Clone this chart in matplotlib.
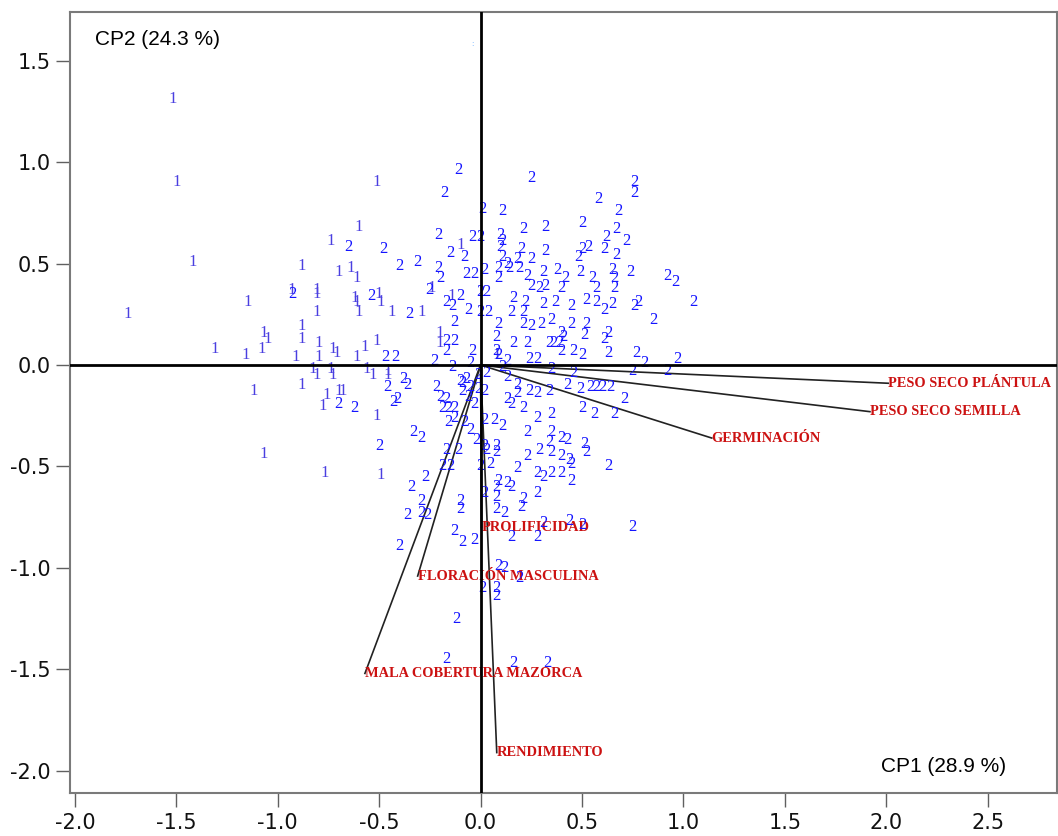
import matplotlib
matplotlib.use("Agg")
import matplotlib.pyplot as plt

# ---- axis titles / limits ----
CP1_LABEL = "CP1 (28.9 %)"
CP2_LABEL = "CP2 (24.3 %)"
X_TICKS = [-2.0, -1.5, -1.0, -0.5, 0.0, 0.5, 1.0, 1.5, 2.0, 2.5]
Y_TICKS = [-2.0, -1.5, -1.0, -0.5, 0.0, 0.5, 1.0, 1.5]

# ---- variable vectors (loadings) ----
var_names = ["PESO SECO PLÁNTULA", "PESO SECO SEMILLA", "GERMINACIÓN",
             "PROLIFICIDAD", "FLORACIÓN MASCULINA", "MALA COBERTURA MAZORCA",
             "RENDIMIENTO"]
var_x = [2.01, 1.92, 1.14, 0.005, -0.31, -0.57, 0.08]
var_y = [-0.09, -0.23, -0.36, -0.80, -1.04, -1.52, -1.91]

# ---- observations, group "1" ----
g1_x = [-1.52, -1.50, -1.42, -1.74, -1.15, -1.31, -1.16, -1.08, -1.07, -1.05,
        -1.12, -0.88, -0.93, -0.81, -0.81, -0.81, -0.88, -0.88, -0.91, -0.80,
        -0.80, -0.73, -0.71, -0.61, -0.57, -0.51, -0.83, -0.81, -0.74, -0.73,
        -0.56, -0.53, -0.46, -0.46, -0.88, -0.76, -0.70, -0.68, -0.78, -0.51,
        -0.74, -0.60, -0.70, -0.64, -0.61, -0.62, -0.61, -0.60, -0.50, -0.49,
        -0.44, -0.29, -0.51, -0.10, -0.24, -0.20, -0.20, -0.14, -1.07, -0.77,
        -0.49, 0.08]
g1_y = [1.31, 0.90, 0.51, 0.25, 0.31, 0.08, 0.05, 0.08, 0.16, 0.13,
        -0.13, 0.49, 0.37, 0.37, 0.35, 0.26, 0.19, 0.13, 0.04, 0.11,
        0.04, 0.08, 0.06, 0.04, 0.09, 0.12, -0.02, -0.05, -0.02, -0.05,
        -0.02, -0.05, -0.03, -0.05, -0.10, -0.15, -0.13, -0.13, -0.20, -0.25,
        0.61, 0.68, 0.46, 0.48, 0.43, 0.33, 0.31, 0.26, 0.35, 0.31,
        0.26, 0.26, 0.90, 0.59, 0.38, 0.16, 0.11, 0.34, -0.44, -0.53,
        -0.54, 0.05]

# ---- observations, group "2" ----
g2_x = [
    # upper left
    -0.11, -0.18, 0.01, 0.11, -0.65, -0.48, -0.21, -0.15, -0.08, -0.40,
    -0.31, -0.21, -0.20, -0.07, -0.25, -0.54, -0.35, -0.17, -0.10, -0.14,
    0.00, 0.00, -0.06, -0.13, -0.17, -0.13, -0.17, -0.47, -0.42, -0.23,
    -0.14, -0.05, -0.04, -0.04, -0.93,
    # lower left near origin
    -0.38, -0.36, -0.46, -0.43, -0.70, -0.62, -0.22, -0.20, -0.19, -0.10,
    -0.09, -0.06, -0.01, -0.01, -0.41, -0.17, -0.09, -0.07, -0.05, -0.03,
    -0.16, -0.13, -0.16, -0.13, -0.08, -0.05, -0.02, -0.33, -0.29, -0.17,
    -0.11, -0.19, -0.15, -0.27, -0.34, -0.29, -0.29, -0.26, -0.36, -0.10,
    -0.10, -0.13, -0.09, -0.03, -0.40, -0.12, -0.17, -0.50,
    # upper right
    0.25, 0.76, 0.76, 0.58, 0.68, 0.50, 0.32, 0.21, 0.67, 0.62,
    0.72, 0.00, 0.10, 0.11, 0.10, 0.20, 0.32, 0.53, 0.50, 0.48,
    0.61, 0.67, 0.11, 0.13, 0.18, 0.25, 0.02, -0.03, 0.09, 0.09,
    0.14, 0.19, 0.23, 0.31, 0.38, 0.42, 0.49, 0.55, 0.65, 0.66,
    0.74, 0.92, 0.96, 1.05, 0.25, 0.29, 0.32, 0.40, 0.57, 0.66,
    0.03, 0.16, 0.22, 0.31, 0.37, 0.45, 0.52, 0.57, 0.61, 0.65,
    0.76, 0.78, 0.85, 0.04, 0.15, 0.21, 0.35, 0.09, 0.21, 0.25,
    0.30, 0.45, 0.52, 0.40, 0.51, 0.61, 0.08, 0.16, 0.23, 0.34,
    0.39, 0.46, 0.50, 0.63, 0.77, 0.81, 0.97, 0.08, 0.09, 0.13,
    0.24, 0.28, 0.63, 0.41, 0.40, 0.36,
    # lower right
    0.35, 0.46, 0.75, 0.92, 0.57, 0.49, 0.64, 0.60, 0.43, 0.54,
    0.03, 0.13, 0.11, 0.02, 0.18, 0.18, 0.24, 0.28, 0.34, 0.13,
    0.15, 0.21, 0.28, 0.35, 0.50, 0.56, 0.66, 0.71, 0.02, 0.07,
    0.11, 0.23, 0.35, 0.40, 0.43, 0.34, 0.29, 0.35, 0.40, 0.44,
    0.51, 0.52, 0.23, 0.02, 0.03, 0.08, 0.08, 0.00, 0.05, 0.18,
    0.28, 0.31, 0.35, 0.40, 0.45, 0.45, 0.63, 0.09, 0.13, 0.15,
    0.08, 0.28, 0.02, 0.08, 0.21, 0.20, 0.08, 0.12, 0.31, 0.44,
    0.50, 0.15, 0.28, 0.75, 0.09, 0.12, 0.19, 0.01, 0.08, 0.08,
    0.16, 0.33,
]
g2_y = [
    # upper left
    0.96, 0.85, 0.77, 0.76, 0.58, 0.57, 0.64, 0.55, 0.53, 0.49,
    0.51, 0.48, 0.43, 0.45, 0.37, 0.34, 0.25, 0.31, 0.34, 0.29,
    0.36, 0.26, 0.27, 0.21, 0.12, 0.12, 0.07, 0.04, 0.04, 0.02,
    -0.01, 0.01, 0.07, 0.63, 0.35,
    # lower left near origin
    -0.07, -0.10, -0.11, -0.18, -0.19, -0.21, -0.11, -0.16, -0.21, -0.08,
    -0.13, -0.16, -0.05, -0.12, -0.17, -0.17, -0.09, -0.07, -0.11, -0.19,
    -0.21, -0.21, -0.28, -0.26, -0.28, -0.32, -0.37, -0.33, -0.36, -0.42,
    -0.42, -0.50, -0.50, -0.55, -0.60, -0.67, -0.73, -0.74, -0.74, -0.67,
    -0.71, -0.82, -0.87, -0.86, -0.89, -1.25, -1.45, -0.40,
    # upper right
    0.92, 0.90, 0.85, 0.82, 0.76, 0.70, 0.68, 0.67, 0.67, 0.63,
    0.61, 0.63, 0.64, 0.61, 0.58, 0.57, 0.56, 0.58, 0.57, 0.53,
    0.57, 0.54, 0.53, 0.50, 0.52, 0.52, 0.47, 0.45, 0.48, 0.43,
    0.48, 0.48, 0.44, 0.46, 0.47, 0.43, 0.46, 0.43, 0.47, 0.43,
    0.46, 0.44, 0.41, 0.31, 0.39, 0.38, 0.39, 0.38, 0.38, 0.38,
    0.36, 0.33, 0.31, 0.30, 0.31, 0.29, 0.32, 0.31, 0.27, 0.30,
    0.29, 0.31, 0.22, 0.26, 0.26, 0.26, 0.22, 0.20, 0.20, 0.19,
    0.20, 0.20, 0.20, 0.16, 0.15, 0.13, 0.14, 0.11, 0.11, 0.11,
    0.11, 0.07, 0.05, 0.06, 0.06, 0.01, 0.03, 0.07, 0.05, 0.02,
    0.03, 0.03, 0.16, 0.14, 0.07, 0.11,
    # lower right
    -0.02, -0.04, -0.03, -0.03, -0.11, -0.12, -0.11, -0.11, -0.10, -0.11,
    -0.04, -0.06, -0.01, -0.13, -0.10, -0.14, -0.13, -0.14, -0.13, -0.17,
    -0.19, -0.21, -0.26, -0.24, -0.21, -0.24, -0.24, -0.17, -0.27, -0.27,
    -0.30, -0.33, -0.33, -0.36, -0.37, -0.38, -0.42, -0.43, -0.45, -0.47,
    -0.39, -0.43, -0.45, -0.40, -0.42, -0.40, -0.43, -0.50, -0.49, -0.51,
    -0.53, -0.55, -0.53, -0.53, -0.49, -0.57, -0.50, -0.57, -0.58, -0.60,
    -0.60, -0.63, -0.63, -0.65, -0.66, -0.70, -0.71, -0.73, -0.78, -0.77,
    -0.79, -0.85, -0.85, -0.80, -0.99, -1.00, -1.05, -1.10, -1.10, -1.14,
    -1.47, -1.47,
]

PT_COLOR = "#1414ff"
G1_COLOR = "#4a3fe0"
VEC_COLOR = "#cc1111"

fig = plt.figure(figsize=(10.58, 8.36), dpi=100)
ax = fig.add_axes([0.066, 0.051, 0.933, 0.935])
ax.set_xlim(-2.025, 2.842)
ax.set_ylim(-2.111, 1.741)
ax.set_xticks(X_TICKS)
ax.set_yticks(Y_TICKS)
ax.set_xticklabels([f"{v:.1f}" for v in X_TICKS])
ax.set_yticklabels([f"{v:.1f}" for v in Y_TICKS])
ax.tick_params(axis="both", direction="out", length=10, width=1.0,
               color="#606060", labelsize=15, pad=4, labelcolor="#111111")
for s in ax.spines.values():
    s.set_color("#7a7a7a")
    s.set_linewidth(1.5)

# reference axes through origin
ax.axhline(0, color="black", lw=2.0, zorder=5)
ax.axvline(0, color="black", lw=2.0, zorder=5)

# vectors and their labels
for name, vx, vy in zip(var_names, var_x, var_y):
    ax.plot([0, vx], [0, vy], color="#222222", lw=1.2, zorder=2)
    ax.text(vx, vy, name, color=VEC_COLOR, fontsize=10.4, fontweight="bold",
            family="Liberation Serif", ha="left", va="center", zorder=3)

# observations
for x, y in zip(g1_x, g1_y):
    ax.text(x, y, "1", color=G1_COLOR, fontsize=12, family="Liberation Serif",
            ha="center", va="center", zorder=4)
for x, y in zip(g2_x, g2_y):
    ax.text(x, y, "2", color=PT_COLOR, fontsize=12, family="Liberation Serif",
            ha="center", va="center", zorder=4)

ax.text(-0.04, 1.58, ":", color="#5fa8ff", fontsize=5, ha="center", va="center")

ax.text(0.025, 0.965, CP2_LABEL, transform=ax.transAxes, fontsize=15,
        family="Liberation Sans", ha="left", va="center")
ax.text(0.949, 0.034, CP1_LABEL, transform=ax.transAxes, fontsize=15,
        family="Liberation Sans", ha="right", va="center")

fig.savefig("out.png", dpi=100)
